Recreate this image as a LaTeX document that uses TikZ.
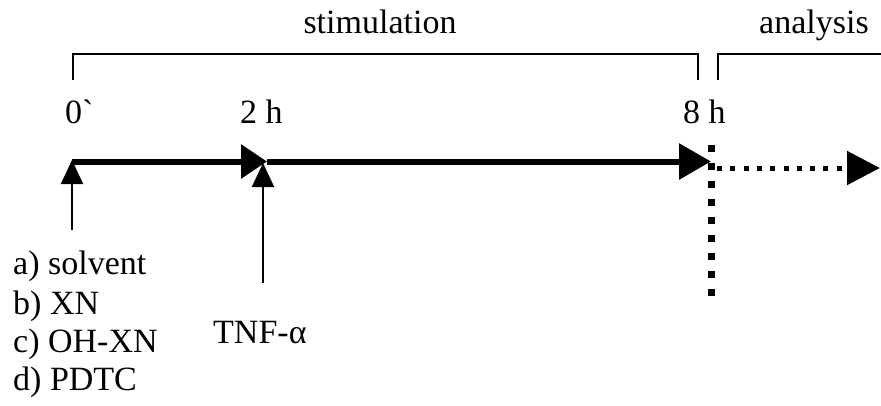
\documentclass[tikz,border=0pt]{standalone}
\usepackage{fontspec}
\setmainfont{Liberation Serif}
\usetikzlibrary{arrows.meta}
\begin{document}
\begin{tikzpicture}[x=1bp,y=-1bp,
  lbl/.style={font=\fontsize{34bp}{40bp}\selectfont, inner sep=0pt, anchor=base west},
  ctr/.style={font=\fontsize{34bp}{40bp}\selectfont, inner sep=0pt, anchor=base},
  mainline/.style={line width=6bp},
  upline/.style={line width=2bp, -{Triangle[length=24bp,width=22bp]}},
  bracket/.style={line width=1.3bp},
  vdots/.style={line width=7bp, dash pattern=on 7bp off 11bp},
  hdots/.style={line width=5bp, dash pattern=on 5bp off 8.3bp, -{Triangle[length=33bp,width=33bp]}}
]
\useasboundingbox (0,0) rectangle (881,405);
% timeline coordinates
\coordinate (t0) at (72,161.5);
\coordinate (t2) at (267,161.5);
\coordinate (t8) at (711,161.5);
\coordinate (d0) at (717,168);
\coordinate (d1) at (880,168);
\coordinate (v0) at (711,145);
\coordinate (v1) at (711,297);
% brackets
\coordinate (s1) at (73,80);
\coordinate (s2) at (698,54);
\coordinate (s3) at (698,80);
\coordinate (a1) at (718,80);
\coordinate (a2) at (881,54);
\draw[bracket] (s1) |- (s2) -- (s3);
\draw[bracket] (a1) |- (a2);
% labels
\node[ctr] (stim) at (380,33) {stimulation};
\node[ctr] (anal) at (814,33) {analysis};
\node[lbl] (l0) at (65,123) {0{\addfontfeatures{Ligatures=TeXOff}\symbol{96}}};
\node[lbl] (l2) at (240,123) {2 h};
\node[lbl] (l8) at (683,123) {8 h};
% main line
\draw[mainline, -{Triangle[length=26bp,width=33bp]}] (t0) -- (t2);
\draw[mainline, -{Triangle[length=32bp,width=35bp]}] (t2) -- (t8);
\draw[hdots] (d0) -- (d1);
\draw[vdots] (v0) -- (v1);
% up arrows
\coordinate (ua) at (72,230);
\coordinate (ut) at (72,160);
\coordinate (ta) at (263,283);
\coordinate (tt) at (263,163);
\draw[upline] (ua) -- (ut);
\draw[upline] (ta) -- (tt);
% texts below
\node[lbl] (ia) at (13,274) {a) solvent};
\node[lbl] (ib) at (13,314) {b) XN};
\node[lbl] (ic) at (13,352) {c) OH-XN};
\node[lbl] (id) at (13,390) {d) PDTC};
\node[lbl] (tnf) at (213,343) {TNF-α};
\end{tikzpicture}
\end{document}
